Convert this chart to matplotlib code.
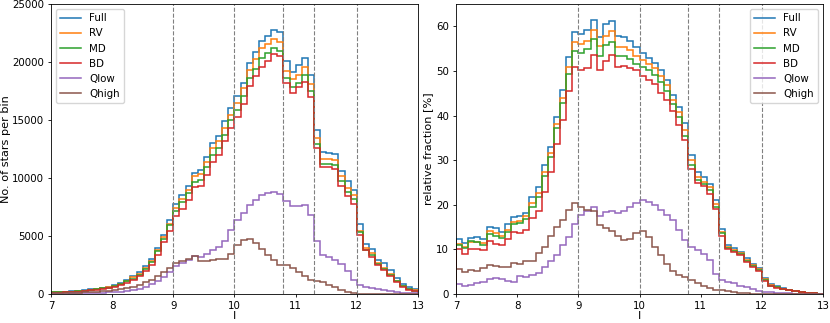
import numpy as np
import matplotlib
matplotlib.use('Agg')
from matplotlib import pyplot as plt

plt.rcParams['font.size'] = 7.4
plt.rcParams['axes.labelsize'] = 8.1
plt.rcParams['axes.linewidth'] = 0.6
plt.rcParams['xtick.major.size'] = 2.5
plt.rcParams['ytick.major.size'] = 2.5
plt.rcParams['xtick.major.width'] = 0.6
plt.rcParams['ytick.major.width'] = 0.6
plt.rcParams['xtick.major.pad'] = 2.5
plt.rcParams['ytick.major.pad'] = 2.5

# bins in I magnitude, 0.1 wide from 7 to 13
edges = np.round(np.arange(7.0, 13.01, 0.1), 1)
labels = ['Full', 'RV', 'MD', 'BD', 'Qlow', 'Qhigh']
vlines = [9, 10, 10.8, 11.3, 12]

# number of stars per bin
n_full = [170, 170, 200, 230, 260, 320, 400, 460, 520, 600,
          750, 950, 1230, 1520, 1870, 2380, 3010, 3960, 5050, 6340,
          7750, 8500, 9330, 10420, 10710, 11770, 13000, 13630, 14920, 16020,
          17080, 18230, 19890, 20840, 21840, 22270, 22760, 22620, 20090, 19170,
          19750, 20380, 18860, 14150, 12230, 12140, 12050, 10620, 9700, 8980,
          6000, 4330, 3870, 2960, 2670, 2100, 1380, 890, 600, 430]
n_rv = [150, 150, 170, 200, 230, 290, 370, 430, 490, 570,
        690, 890, 1150, 1440, 1750, 2240, 2870, 3820, 4880, 6060,
        7410, 8180, 8980, 10190, 10330, 11420, 12570, 13150, 14290, 15440,
        16500, 17740, 19320, 20240, 21180, 21560, 21990, 21760, 19260, 18510,
        18890, 19600, 18080, 13430, 11620, 11620, 11570, 10130, 9130, 8550,
        5400, 3960, 3530, 2670, 2240, 1720, 1090, 720, 460, 320]
n_md = [140, 150, 170, 200, 230, 290, 370, 430, 490, 550,
        660, 860, 1090, 1320, 1660, 2150, 2780, 3670, 4750, 5910,
        7120, 7890, 8700, 9620, 9850, 10990, 12000, 12570, 13720, 15010,
        15900, 17080, 18600, 19370, 20320, 20750, 21180, 20980, 18600, 17880,
        18170, 18890, 17510, 12940, 11220, 11220, 11110, 9700, 8750, 8180,
        5310, 3820, 3390, 2610, 2150, 1660, 1090, 660, 400, 290]
n_bd = [110, 120, 140, 170, 200, 260, 340, 370, 430, 490,
        570, 750, 950, 1180, 1520, 1950, 2470, 3390, 4500, 5400,
        6690, 7320, 8120, 9210, 9330, 10280, 11420, 12000, 13150, 14290,
        15270, 16390, 17970, 18800, 19600, 20120, 20670, 20520, 18170, 17360,
        17880, 18310, 17020, 12570, 10990, 10940, 10760, 9330, 8470, 7780,
        5110, 3760, 3190, 2530, 2100, 1580, 1000, 600, 370, 260]
n_qlow = [30, 30, 40, 50, 60, 70, 80, 100, 110, 130,
          170, 210, 260, 320, 430, 600, 860, 1090, 1460, 1890,
          2380, 2670, 2960, 3240, 3190, 3470, 3760, 4050, 4530, 5480,
          6340, 6970, 7690, 8120, 8550, 8700, 8780, 8610, 7980, 7550,
          7550, 7630, 6830, 4530, 3390, 3190, 2900, 2580, 1950, 1230,
          800, 600, 490, 430, 320, 230, 170, 110, 90, 60]
n_qhigh = [60, 60, 80, 100, 120, 150, 180, 210, 240, 260,
           320, 430, 520, 600, 800, 1000, 1230, 1580, 1870, 2240,
           2670, 2870, 3000, 3240, 2820, 2870, 2960, 3010, 3040, 3440,
           4190, 4680, 4740, 4390, 3900, 3390, 2900, 2530, 2470, 2240,
           1890, 1520, 1230, 1150, 1000, 800, 600, 370, 200, 90,
           30, 15, 10, 5, 5, 0, 0, 0, 0, 0]

# relative fraction [%]
f_full = [12.3, 11.4, 12.6, 12.7, 12.4, 15.0, 14.7, 14.0, 15.7, 17.2,
          17.4, 18.1, 21.8, 23.9, 28.9, 33.0, 39.7, 45.8, 53.1, 58.7,
          58.3, 59.1, 61.4, 57.6, 60.5, 61.3, 57.9, 57.7, 56.8, 55.3,
          54.0, 53.0, 51.8, 50.1, 48.0, 44.7, 42.0, 38.3, 31.2, 27.3,
          26.3, 24.6, 21.1, 14.5, 11.0, 10.2, 9.5, 8.0, 6.7, 5.9,
          3.5, 2.2, 1.8, 1.3, 1.0, 0.75, 0.45, 0.3, 0.15, 0.08]
f_rv = [11.2, 10.6, 11.7, 11.6, 11.4, 14.1, 13.6, 13.1, 14.4, 16.2,
        16.4, 17.4, 20.3, 22.6, 27.4, 31.6, 38.1, 43.9, 50.9, 56.4,
        56.0, 56.8, 59.1, 55.5, 57.9, 58.9, 55.3, 55.3, 54.6, 53.4,
        52.5, 51.6, 50.6, 48.9, 46.9, 43.5, 40.9, 36.8, 30.1, 26.3,
        25.2, 23.9, 20.2, 14.0, 10.6, 9.9, 9.1, 7.6, 6.4, 5.5,
        3.3, 2.0, 1.6, 1.2, 0.9, 0.7, 0.45, 0.3, 0.15, 0.08]
f_md = [11.0, 10.3, 11.8, 11.6, 11.0, 13.4, 13.0, 12.5, 14.0, 15.8,
        16.0, 16.8, 19.5, 21.8, 26.5, 30.8, 37.2, 42.7, 49.3, 54.5,
        54.1, 55.0, 57.1, 53.3, 55.9, 56.5, 53.3, 53.4, 52.6, 51.6,
        50.8, 50.2, 49.0, 47.5, 45.4, 42.6, 39.7, 35.5, 29.0, 25.6,
        24.6, 23.3, 19.5, 13.6, 10.4, 9.7, 8.9, 7.4, 6.2, 5.3,
        3.2, 1.9, 1.5, 1.1, 0.85, 0.65, 0.4, 0.28, 0.14, 0.07]
f_bd = [10.0, 9.0, 10.1, 10.0, 9.8, 11.8, 11.2, 10.9, 12.4, 14.0,
        13.7, 14.4, 17.0, 18.6, 22.9, 27.4, 33.6, 38.9, 45.4, 50.9,
        50.1, 50.6, 53.6, 50.2, 52.3, 53.5, 50.9, 51.0, 50.6, 50.2,
        48.8, 48.0, 47.1, 45.1, 43.4, 41.0, 37.8, 34.5, 28.0, 24.8,
        24.2, 22.5, 19.0, 13.0, 10.1, 9.4, 8.7, 7.2, 6.0, 5.1,
        3.0, 1.8, 1.4, 1.05, 0.8, 0.6, 0.4, 0.26, 0.13, 0.06]
f_qlow = [2.2, 1.8, 2.0, 2.4, 2.6, 3.3, 3.5, 3.4, 3.0, 2.8,
          4.0, 3.7, 4.3, 4.8, 6.1, 7.3, 8.7, 11.0, 12.7, 15.7,
          17.7, 18.5, 19.4, 17.5, 18.3, 18.7, 18.1, 18.5, 19.4, 20.5,
          21.1, 20.6, 20.0, 18.8, 17.7, 16.6, 14.4, 12.2, 10.6, 9.9,
          9.0, 7.6, 4.5, 3.1, 2.8, 2.4, 1.9, 1.5, 1.2, 0.75,
          0.5, 0.35, 0.25, 0.18, 0.12, 0.08, 0.05, 0.03, 0.02, 0.01]
f_qhigh = [5.5, 5.0, 5.4, 5.2, 5.8, 6.4, 6.2, 6.1, 6.0, 6.9,
           6.7, 7.3, 7.5, 9.1, 10.6, 13.0, 15.1, 16.6, 18.8, 20.3,
           19.4, 18.8, 18.6, 15.5, 14.7, 14.1, 12.9, 12.0, 12.3, 13.6,
           14.2, 12.7, 10.6, 8.8, 6.7, 5.2, 4.3, 3.7, 3.1, 2.5,
           1.8, 1.4, 1.0, 0.9, 0.7, 0.45, 0.3, 0.15, 0.1, 0.05,
           0.03, 0.02, 0.01, 0, 0, 0, 0, 0, 0, 0]

counts = [n_full, n_rv, n_md, n_bd, n_qlow, n_qhigh]
fracs = [f_full, f_rv, f_md, f_bd, f_qlow, f_qhigh]

fig = plt.figure(figsize=(8.3, 3.23), dpi=100)
ax1 = fig.add_axes([0.0614, 0.0898, 0.4422, 0.8978])
ax2 = fig.add_axes([0.5494, 0.0898, 0.4422, 0.8978])

for i, (lab, vals) in enumerate(zip(labels, counts)):
    ax1.stairs(vals, edges, color='C%d' % i, lw=1.1, label=lab)
for i, (lab, vals) in enumerate(zip(labels, fracs)):
    ax2.stairs(vals, edges, color='C%d' % i, lw=1.1, label=lab)

for ax in (ax1, ax2):
    for v in vlines:
        ax.axvline(v, color='grey', ls='--', lw=0.8)
    ax.set_xlim(7, 13)
    ax.set_xlabel('I', labelpad=0)

ax1.set_ylim(0, 25000)
ax1.set_ylabel('No. of stars per bin', labelpad=0.5)
ax1.legend(loc='upper left')

ax2.set_ylim(0, 65)
ax2.set_ylabel('relative fraction [%]', labelpad=2)
ax2.legend(loc='upper right')

fig.savefig('out.png', dpi=100)
